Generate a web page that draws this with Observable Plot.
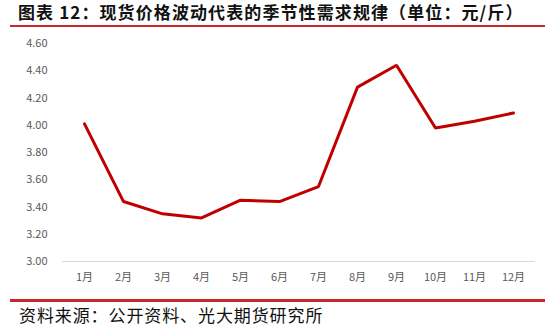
<!DOCTYPE html>
<html><head><meta charset="utf-8">
<script src="https://cdn.jsdelivr.net/npm/d3@7"></script>
<script src="https://cdn.jsdelivr.net/npm/@observablehq/plot@0.6"></script>
<style>
body{margin:0;background:#fff;width:550px;height:328px;position:relative;overflow:hidden;font-family:"Noto Sans CJK SC",sans-serif;}
#title{position:absolute;left:18px;top:0px;font-size:17px;font-weight:bold;color:#111;line-height:24px;white-space:nowrap;letter-spacing:1.1px;}
#rule1{position:absolute;left:10px;top:25px;width:535px;height:2px;background:#c8262c;}
#chart{position:absolute;left:0;top:28px;}
#rule2{position:absolute;left:10px;top:299px;width:535px;height:3px;background:#c8262c;}
#source{position:absolute;left:19px;top:304px;font-size:17px;color:#111;line-height:22px;white-space:nowrap;letter-spacing:0.9px;}
</style></head>
<body>
<div id="title">图表 12：现货价格波动代表的季节性需求规律（单位：元/斤）</div>
<div id="rule1"></div>
<div id="chart"></div>
<div id="rule2"></div>
<div id="source">资料来源：公开资料、光大期货研究所</div>
<script>
const months = ["1月","2月","3月","4月","5月","6月","7月","8月","9月","10月","11月","12月"];
const prices = [4.01, 3.44, 3.35, 3.32, 3.45, 3.44, 3.55, 4.28, 4.44, 3.98, 4.03, 4.09];
const yTicks = [3.0, 3.2, 3.4, 3.6, 3.8, 4.0, 4.2, 4.4, 4.6];

const data = months.map((m, i) => ({month: m, price: prices[i]}));

const chart = Plot.plot({
  width: 550,
  height: 270,
  marginLeft: 62,
  marginRight: 15,
  marginTop: 15,
  marginBottom: 37,
  style: {fontFamily: "'Noto Sans CJK SC', sans-serif", fontSize: "11px", color: "#595959", background: "transparent"},
  x: {type: "point", domain: months, padding: 0.5, label: null},
  y: {domain: [3.0, 4.6], ticks: yTicks, tickFormat: d3.format(".2f"), label: null},
  marks: [
    Plot.axisY({ticks: yTicks, tickFormat: d3.format(".2f"), tickSize: 0, tickPadding: 15, fontSize: 11, fill: "#595959"}),
    Plot.axisX({tickSize: 0, tickPadding: 12, fontSize: 11, fill: "#595959"}),
    Plot.ruleY([3.0], {stroke: "#d9d9d9", strokeWidth: 1}),
    Plot.line(data, {x: "month", y: "price", stroke: "#c00000", strokeWidth: 3, strokeLinejoin: "miter"})
  ]
});
document.getElementById("chart").appendChild(chart);
</script>
</body></html>
